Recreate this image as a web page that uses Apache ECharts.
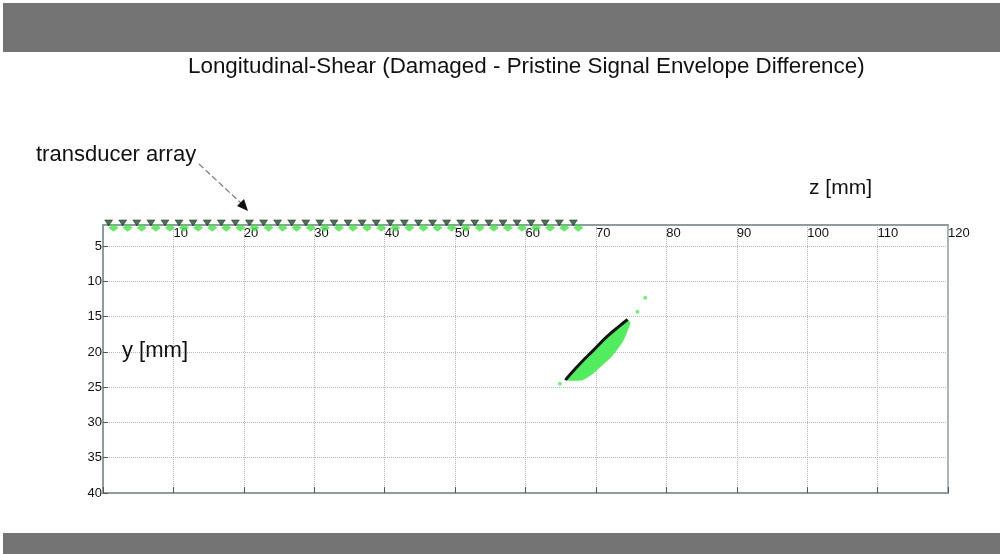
<!DOCTYPE html>
<html><head><meta charset="utf-8">
<script src="https://cdn.jsdelivr.net/npm/echarts@6/dist/echarts.min.js"></script>
<style>html,body{margin:0;padding:0;background:#fff}#c{width:1003px;height:554px}</style>
</head><body><div id="c"></div>
<script>
// ---- data ----
const zTicks = [0,10,20,30,40,50,60,70,80,90,100,110,120];
const yTicks = [5,10,15,20,25,30,35,40];
// transducer array elements (z positions in mm)
const elementZ = [1.5,3.5,5.5,7.5,9.5,11.5,13.5,15.5,17.5,19.5,21.5,23.5,25.5,27.5,29.5,31.5,33.5,35.5,37.5,39.5,41.5,43.5,45.5,47.5,49.5,51.5,53.5,55.5,57.5,59.5,61.5,63.5,65.5,67.5];
const elementBackZ = [0.8,2.8,4.8,6.8,8.8,10.8,12.8,14.8,16.8,18.8,20.8,22.8,24.8,26.8,28.8,30.8,32.8,34.8,36.8,38.8,40.8,42.8,44.8,46.8,48.8,50.8,52.8,54.8,56.8,58.8,60.8,62.8,64.8,66.8];
const elementY = 2.4;
const elementBackY = 1.7;
// damage indication outline [z, y]
const damageOutline = [[65.7,24.0],[65.9,23.7],[67.8,21.6],[69.7,19.7],[71.6,17.8],[73.5,16.2],[74.5,15.4],[74.9,15.9],[73.9,18.4],[72.3,20.6],[70.9,21.9],[69.6,23.1],[68.1,24.0],[66.4,24.1]];
const damageEdge = [[65.7,24.0],[65.9,23.7],[67.8,21.6],[69.7,19.7],[71.6,17.8],[73.5,16.2],[74.5,15.4]];
const damageSpecks = [[77.0,12.3],[75.9,14.3],[64.9,24.5]];

const chart = echarts.init(document.getElementById('c'));
const font = '"Liberation Sans", Arial, sans-serif';
const gridLine = {show:true, lineStyle:{color:'#b8b8b8', type:'dotted', width:1}};
chart.setOption({
  animation:false,
  backgroundColor:'#fff',
  title:[
    {text:'Longitudinal-Shear (Damaged - Pristine Signal Envelope Difference)', left:183, top:51,
      textStyle:{fontFamily:font, fontSize:22.4, fontWeight:'normal', color:'#111'}},
    {text:'z [mm]', left:804, top:173, textStyle:{fontFamily:font, fontSize:21, fontWeight:'normal', color:'#111'}},
    {text:'y [mm]', left:117, top:335, textStyle:{fontFamily:font, fontSize:22, fontWeight:'normal', color:'#111'}},
    {text:'transducer array', left:31, top:139, textStyle:{fontFamily:font, fontSize:22, fontWeight:'normal', color:'#111'}}
  ],
  grid:{left:103, top:225, width:845, height:268, show:true, borderColor:'#8e9ca0', borderWidth:1.5, backgroundColor:'#fff'},
  xAxis:[
    {type:'value', position:'top', min:0, max:120, interval:10,
      axisLine:{show:true, lineStyle:{color:'#8e9ca0', width:2}},
      axisTick:{show:false},
      axisLabel:{show:true, showMinLabel:false, margin:-8, align:'left', verticalAlign:'middle',
        color:'#111', fontFamily:font, fontSize:13,
        formatter:v=> v===0?'':String(v)},
      splitLine:gridLine},
    {type:'value', position:'bottom', min:0, max:120, interval:10,
      axisLine:{show:true, lineStyle:{color:'#8e9ca0', width:2}},
      axisTick:{show:true, inside:true, length:6, lineStyle:{color:'#555'}},
      axisLabel:{show:false}, splitLine:{show:false}}
  ],
  yAxis:[
    {type:'value', inverse:true, min:2, max:40,
      axisLine:{show:true, lineStyle:{color:'#8e9ca0', width:2}},
      axisTick:{show:true, inside:true, length:5, customValues:yTicks, lineStyle:{color:'#555'}},
      axisLabel:{show:true, customValues:yTicks, margin:1, color:'#111', fontFamily:font, fontSize:13},
      splitLine:gridLine}
  ],
  graphic:[
    {type:'rect', shape:{x:3,y:3,width:997,height:49}, style:{fill:'#747474'}, silent:true},
    {type:'rect', shape:{x:3,y:533,width:997,height:21}, style:{fill:'#747474'}, silent:true},
    {type:'line', shape:{x1:199,y1:164,x2:243,y2:205}, style:{stroke:'#777', lineWidth:1.2, lineDash:[6,3]}, silent:true},
    {type:'polygon', shape:{points:[[248,211],[237,206],[244,199]]}, style:{fill:'#111'}, silent:true}
  ],
  series:[
    {type:'custom', xAxisIndex:0, yAxisIndex:0, clip:false,
      renderItem:(params, api)=>{
        if(params.dataIndex!==0) return null;
        const pts = damageOutline.map(p=>api.coord(p));
        return {type:'polygon', shape:{points:pts, smooth:0.15}, style:{fill:'#52ec5f'}};
      },
      data:[0]},
    {type:'line', xAxisIndex:0, yAxisIndex:0, data:damageEdge, symbol:'none', smooth:true,
      lineStyle:{color:'#141414', width:3}},
    {type:'scatter', xAxisIndex:0, yAxisIndex:0, data:damageSpecks, symbol:'circle', symbolSize:4,
      itemStyle:{color:'#52ec5f'}},
    {type:'scatter', xAxisIndex:0, yAxisIndex:0, clip:false,
      data:elementBackZ.map(z=>[z, elementBackY]), symbol:'triangle', symbolRotate:180, symbolSize:[8,6],
      itemStyle:{color:'#1f4d2a', borderColor:'#111', borderWidth:0.5}},
    {type:'scatter', xAxisIndex:0, yAxisIndex:0, clip:false,
      data:elementZ.map(z=>[z, elementY]), symbol:'diamond', symbolSize:[10,8],
      itemStyle:{color:'#45e045'}}
  ]
});
</script></body></html>
